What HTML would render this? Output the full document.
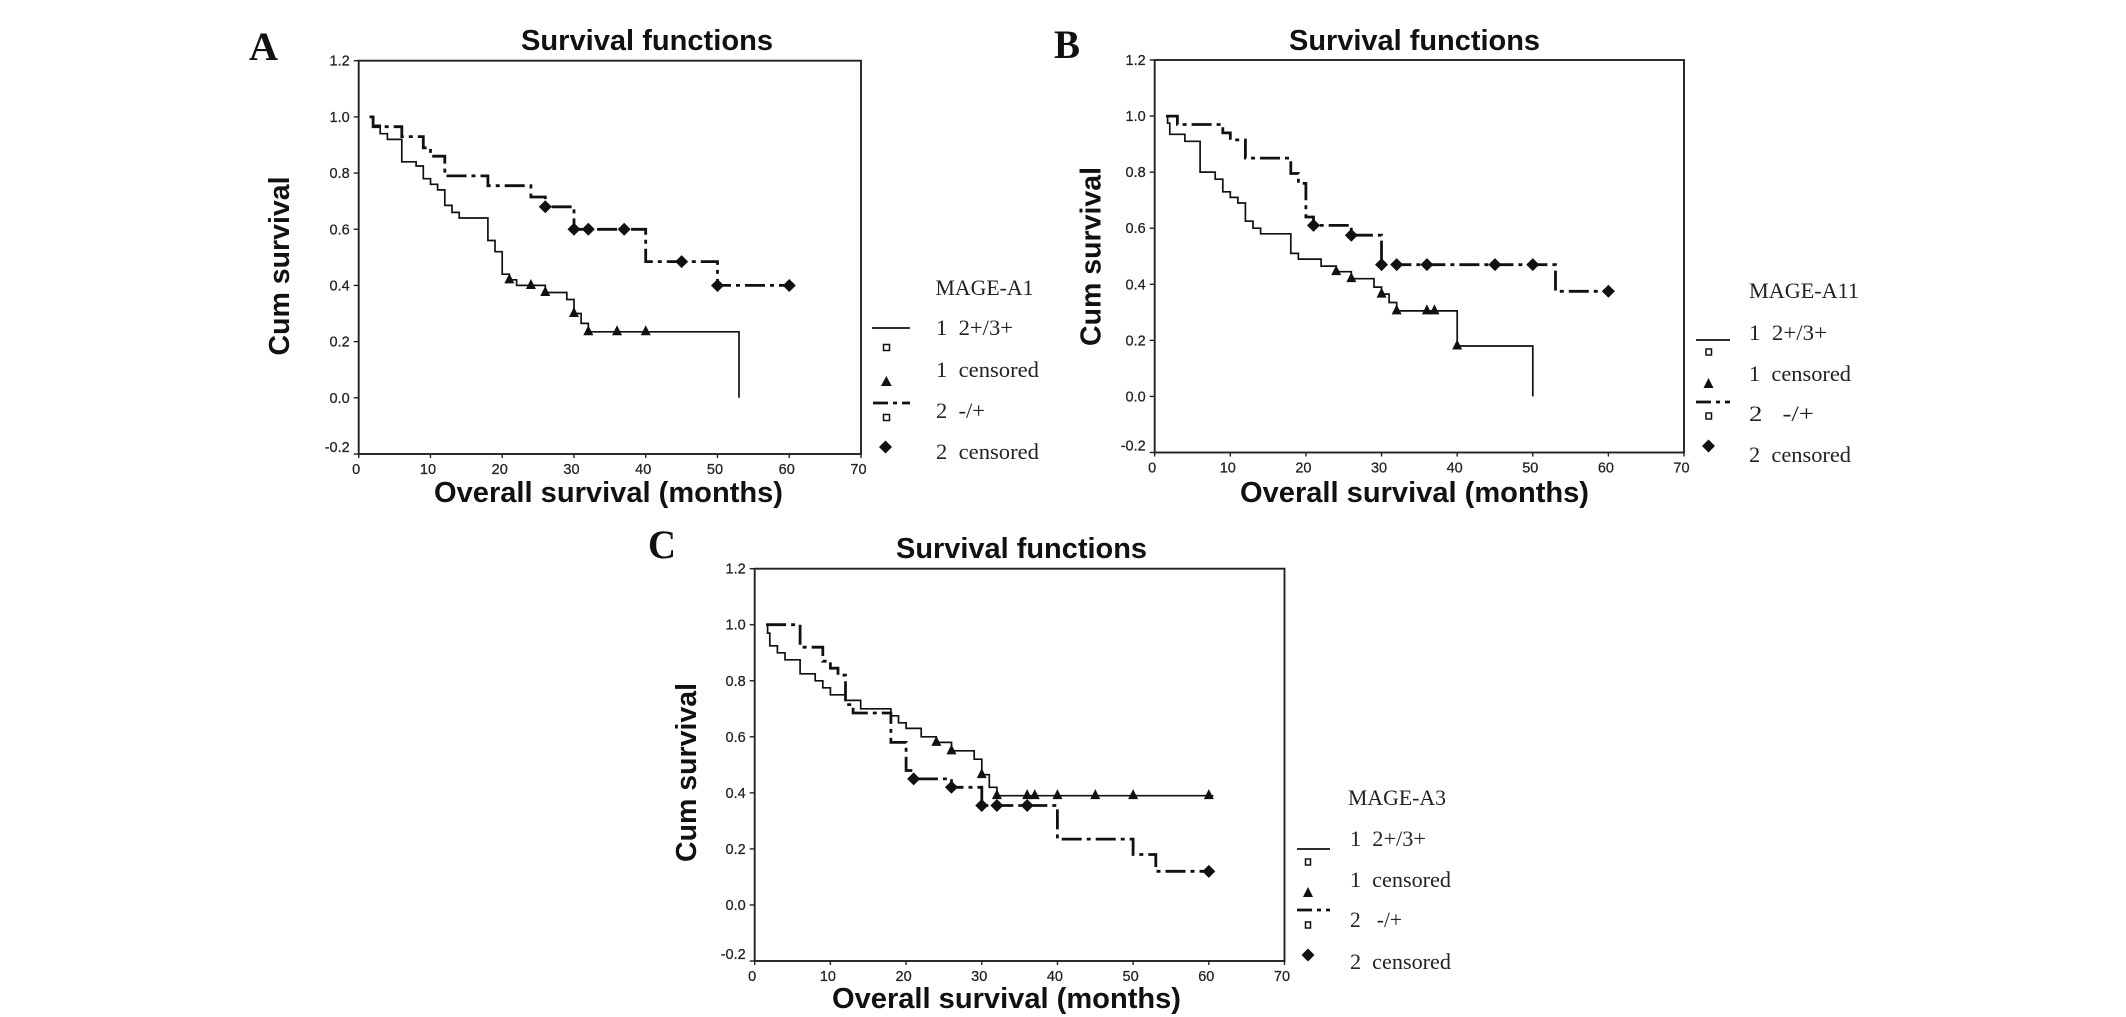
<!DOCTYPE html>
<html lang="en">
<head>
<meta charset="utf-8">
<title>Survival functions</title>
<style>
html,body{margin:0;padding:0;background:#fff;width:2126px;height:1017px;overflow:hidden}
svg{display:block}
.ttl{font:bold 29px "Liberation Sans",sans-serif;fill:#111}
.ax{font:bold 29px "Liberation Sans",sans-serif;fill:#111}
.let{font:bold 40px "Liberation Serif",serif;fill:#111}
.leg{font:22px "Liberation Serif",serif;fill:#222;white-space:pre}
.tk{font:14.5px "Liberation Sans",sans-serif;fill:#222;stroke:#222;stroke-width:.25}
</style>
</head>
<body>
<svg id="fig" xmlns="http://www.w3.org/2000/svg" width="2126" height="1017" viewBox="0 0 2126 1017">
  <rect width="2126" height="1017" fill="#fff"/>

  <g id="panel-a">
    <text class="let" x="249" y="60" textLength="29" lengthAdjust="spacingAndGlyphs">A</text>
    <text class="ttl" x="521" y="50" textLength="252" lengthAdjust="spacingAndGlyphs">Survival functions</text>
    <text class="ax" x="434" y="502" textLength="349" lengthAdjust="spacingAndGlyphs">Overall survival (months)</text>
    <text class="ax" transform="translate(289 355.5) rotate(-90)" textLength="179" lengthAdjust="spacingAndGlyphs">Cum survival</text>
    <g>
      <text class="leg" x="935.5" y="295" textLength="98" lengthAdjust="spacingAndGlyphs">MAGE-A1</text>
      <text class="leg" x="936" y="335" textLength="77" lengthAdjust="spacingAndGlyphs">1  2+/3+</text>
      <text class="leg" x="936" y="377" textLength="103" lengthAdjust="spacingAndGlyphs">1  censored</text>
      <text class="leg" x="936" y="418" textLength="49" lengthAdjust="spacingAndGlyphs">2  -/+</text>
      <text class="leg" x="936" y="459" textLength="103" lengthAdjust="spacingAndGlyphs">2  censored</text>
      <line x1="872" x2="910" y1="328" y2="328" stroke="#111" stroke-width="1.7"/>
      <rect x="883.5" y="344.5" width="6" height="6" fill="#fff" stroke="#111" stroke-width="1.5"/>
      <path d="M886.3 376L891.7 386H881Z" fill="#111"/>
      <line x1="873" x2="910" y1="403" y2="403" stroke="#111" stroke-width="2.8" stroke-dasharray="15 5 4 5"/>
      <rect x="883.5" y="414.5" width="6" height="6" fill="#fff" stroke="#111" stroke-width="1.5"/>
      <path d="M885.5 440.5L892 447L885.5 453.5L879 447Z" fill="#111"/>
    </g>
  </g>

  <g id="panel-b">
    <text class="let" x="1054" y="58" textLength="26" lengthAdjust="spacingAndGlyphs">B</text>
    <text class="ttl" x="1289" y="50" textLength="251" lengthAdjust="spacingAndGlyphs">Survival functions</text>
    <text class="ax" x="1240" y="502" textLength="349" lengthAdjust="spacingAndGlyphs">Overall survival (months)</text>
    <text class="ax" transform="translate(1100.6 346) rotate(-90)" textLength="179" lengthAdjust="spacingAndGlyphs">Cum survival</text>
    <g>
      <text class="leg" x="1749" y="298" textLength="110" lengthAdjust="spacingAndGlyphs">MAGE-A11</text>
      <text class="leg" x="1749" y="340" textLength="78" lengthAdjust="spacingAndGlyphs">1  2+/3+</text>
      <text class="leg" x="1749" y="381" textLength="102" lengthAdjust="spacingAndGlyphs">1  censored</text>
      <text class="leg" x="1749" y="421" textLength="65" lengthAdjust="spacingAndGlyphs">2   -/+</text>
      <text class="leg" x="1749" y="462" textLength="102" lengthAdjust="spacingAndGlyphs">2  censored</text>
      <line x1="1696" x2="1730" y1="340" y2="340" stroke="#111" stroke-width="1.7"/>
      <rect x="1706" y="349" width="5.5" height="6" fill="#fff" stroke="#111" stroke-width="1.5"/>
      <path d="M1708.5 378L1713.5 388H1703.5Z" fill="#111"/>
      <line x1="1696" x2="1730" y1="402" y2="402" stroke="#111" stroke-width="2.8" stroke-dasharray="15 5 4 5"/>
      <rect x="1706" y="413" width="5.5" height="6" fill="#fff" stroke="#111" stroke-width="1.5"/>
      <path d="M1708.5 439.5L1715 446L1708.5 452.5L1702 446Z" fill="#111"/>
    </g>
  </g>

  <g id="panel-c">
    <text class="let" x="648" y="558" textLength="28" lengthAdjust="spacingAndGlyphs">C</text>
    <text class="ttl" x="896" y="558" textLength="251" lengthAdjust="spacingAndGlyphs">Survival functions</text>
    <text class="ax" x="832" y="1008" textLength="349" lengthAdjust="spacingAndGlyphs">Overall survival (months)</text>
    <text class="ax" transform="translate(696 862) rotate(-90)" textLength="179" lengthAdjust="spacingAndGlyphs">Cum survival</text>
    <g>
      <text class="leg" x="1348" y="805" textLength="98" lengthAdjust="spacingAndGlyphs">MAGE-A3</text>
      <text class="leg" x="1350" y="846" textLength="76" lengthAdjust="spacingAndGlyphs">1  2+/3+</text>
      <text class="leg" x="1350" y="887" textLength="101" lengthAdjust="spacingAndGlyphs">1  censored</text>
      <text class="leg" x="1350" y="927" textLength="52" lengthAdjust="spacingAndGlyphs">2   -/+</text>
      <text class="leg" x="1350" y="969" textLength="101" lengthAdjust="spacingAndGlyphs">2  censored</text>
      <line x1="1297" x2="1330" y1="849" y2="849" stroke="#111" stroke-width="1.7"/>
      <rect x="1305.5" y="859" width="5" height="6" fill="#fff" stroke="#111" stroke-width="1.5"/>
      <path d="M1308 887L1313 897H1303Z" fill="#111"/>
      <line x1="1297" x2="1330" y1="910" y2="910" stroke="#111" stroke-width="2.8" stroke-dasharray="15 5 4 5"/>
      <rect x="1305.5" y="922" width="5" height="6" fill="#fff" stroke="#111" stroke-width="1.5"/>
      <path d="M1308 948.5L1314.5 955L1308 961.5L1301.5 955Z" fill="#111"/>
    </g>
  </g>
</svg>

<script>
// Axis tick labels
const xTickLabels = [0, 10, 20, 30, 40, 50, 60, 70];
const yTickLabels = [1.2, 1.0, 0.8, 0.6, 0.4, 0.2, 0.0, -0.2];

// Panel A: MAGE-A1
const aSolidTimes = [1.5, 2, 3, 4, 6, 8, 9, 10, 11, 12, 13, 14, 18, 19, 20, 21, 22, 26, 29, 30, 31, 32, 53];
const aSolidSurvival = [1.0, 0.97, 0.94, 0.92, 0.84, 0.825, 0.78, 0.76, 0.74, 0.685, 0.66, 0.64, 0.56, 0.52, 0.44, 0.42, 0.40, 0.375, 0.35, 0.30, 0.265, 0.235, 0];
const aSolidEnd = [53];
const aSolidCensored = [21, 24, 26, 30, 32, 36, 40];
const aDashTimes = [1.5, 2, 6, 9, 10, 12, 18, 24, 26, 30, 40, 50];
const aDashSurvival = [1.0, 0.965, 0.93, 0.89, 0.86, 0.79, 0.755, 0.715, 0.68, 0.60, 0.485, 0.40];
const aDashEnd = [60];
const aDashCensored = [26, 30, 32, 37, 45, 50, 60];

// Panel B: MAGE-A11
const bSolidTimes = [1.5, 1.7, 2, 4, 6, 8, 9, 10, 11, 12, 13, 14, 18, 19, 22, 24, 26, 29, 30, 31, 32, 40, 50];
const bSolidSurvival = [1.0, 0.975, 0.935, 0.91, 0.80, 0.775, 0.73, 0.71, 0.69, 0.625, 0.60, 0.58, 0.51, 0.49, 0.465, 0.445, 0.42, 0.39, 0.365, 0.335, 0.305, 0.18, 0];
const bSolidEnd = [50];
const bSolidCensored = [24, 26, 30, 32, 36, 37, 40];
const bDashTimes = [1.5, 3, 9, 10, 12, 18, 19, 20, 21, 26, 30, 53];
const bDashSurvival = [1.0, 0.97, 0.94, 0.915, 0.85, 0.795, 0.76, 0.64, 0.61, 0.575, 0.47, 0.375];
const bDashEnd = [60];
const bDashCensored = [21, 26, 30, 32, 36, 45, 50, 60];

// Panel C: MAGE-A3
const cSolidTimes = [1.5, 1.7, 2, 3, 4, 6, 8, 9, 10, 12, 14, 18, 19, 20, 22, 24, 26, 29, 30, 31, 32];
const cSolidSurvival = [1.0, 0.97, 0.925, 0.90, 0.875, 0.825, 0.80, 0.775, 0.75, 0.73, 0.70, 0.675, 0.65, 0.63, 0.60, 0.58, 0.55, 0.52, 0.465, 0.42, 0.39];
const cSolidEnd = [60.6];
const cSolidCensored = [24, 26, 30, 32, 36, 37, 40, 45, 50, 60];
const cDashTimes = [1.5, 6, 9, 10, 11, 12, 13, 18, 20, 21, 26, 30, 40, 50, 53];
const cDashSurvival = [1.0, 0.92, 0.87, 0.845, 0.82, 0.715, 0.685, 0.58, 0.48, 0.45, 0.42, 0.355, 0.235, 0.18, 0.12];
const cDashEnd = [60];
const cDashCensored = [21, 26, 30, 32, 36, 60];

const SVGNS = 'http://www.w3.org/2000/svg';

function xAxis(frame, v) {
  return frame.left + (v / 70) * (frame.right - frame.left);
}
function yAxis(frame, v) {
  return frame.top + ((1.2 - v) / 1.4) * (frame.bottom - frame.top);
}
function survivalAt(times, survival, t) {
  let s = survival[0];
  for (let i = 0; i < times.length; i++) {
    if (times[i] <= t) s = survival[i];
  }
  return s;
}
function stepPath(frame, times, survival, end) {
  let d = 'M' + xAxis(frame, times[0]).toFixed(1) + ' ' + yAxis(frame, survival[0]).toFixed(1);
  for (let i = 1; i < times.length; i++) {
    d += 'H' + xAxis(frame, times[i]).toFixed(1) + 'V' + yAxis(frame, survival[i]).toFixed(1);
  }
  d += 'H' + xAxis(frame, end).toFixed(1);
  return d;
}
function shape(parent, tag, name) {
  const el = document.createElementNS(SVGNS, tag);
  
  
  parent.appendChild(el);
  return el;
}

function drawPanel(panelId, frame, solid, dash) {
  const g = document.getElementById(panelId);

  const box = shape(g, 'rect', 'plot-frame');
  box.setAttribute('x', frame.left);
  box.setAttribute('y', frame.top);
  box.setAttribute('width', frame.right - frame.left);
  box.setAttribute('height', frame.bottom - frame.top);
  box.setAttribute('fill', 'none');
  box.setAttribute('stroke', '#222');
  box.setAttribute('stroke-width', '1.9');

  xTickLabels.forEach(function (v) {
    const px = xAxis(frame, v);
    const tick = shape(g, 'line', 'x-tick-' + v);
    tick.setAttribute('x1', px);
    tick.setAttribute('x2', px);
    tick.setAttribute('y1', frame.bottom);
    tick.setAttribute('y2', frame.bottom + 4);
    tick.setAttribute('stroke', '#222');
    tick.setAttribute('stroke-width', '1.4');
    const label = shape(g, 'text', 'x-tick-label-' + v);
    label.setAttribute('class', 'tk');
    label.setAttribute('x', px - 2.5);
    label.setAttribute('y', frame.bottom + 20);
    label.setAttribute('text-anchor', 'middle');
    label.textContent = String(v);
  });

  yTickLabels.forEach(function (v) {
    const py = yAxis(frame, v);
    const tick = shape(g, 'line', 'y-tick-' + v);
    tick.setAttribute('x1', frame.left - 5);
    tick.setAttribute('x2', frame.left);
    tick.setAttribute('y1', py);
    tick.setAttribute('y2', py);
    tick.setAttribute('stroke', '#222');
    tick.setAttribute('stroke-width', '1.4');
    const label = shape(g, 'text', 'y-tick-label-' + v);
    label.setAttribute('class', 'tk');
    label.setAttribute('x', frame.left - 9);
    label.setAttribute('y', py + 5 - (v < 0 ? 7 : 0));
    label.setAttribute('text-anchor', 'end');
    label.textContent = v.toFixed(1);
  });

  const solidLine = shape(g, 'path', 'survival-line-group-1');
  solidLine.setAttribute('d', stepPath(frame, solid.times, solid.survival, solid.end));
  solidLine.setAttribute('fill', 'none');
  solidLine.setAttribute('stroke', '#111');
  solidLine.setAttribute('stroke-width', '1.7');

  const dashLine = shape(g, 'path', 'survival-line-group-2');
  dashLine.setAttribute('d', stepPath(frame, dash.times, dash.survival, dash.end));
  dashLine.setAttribute('fill', 'none');
  dashLine.setAttribute('stroke', '#111');
  dashLine.setAttribute('stroke-width', '2.8');
  dashLine.setAttribute('stroke-dasharray', '20 5 4 5');

  solid.censored.forEach(function (t) {
    const px = xAxis(frame, t);
    const py = yAxis(frame, survivalAt(solid.times, solid.survival, t));
    const tri = shape(g, 'path', 'censored-triangle-' + t);
    tri.setAttribute('d', 'M' + px + ' ' + (py - 6.5) + 'L' + (px + 5) + ' ' + (py + 3.5) + 'H' + (px - 5) + 'Z');
    tri.setAttribute('fill', '#111');
  });

  dash.censored.forEach(function (t) {
    const px = xAxis(frame, t);
    const py = yAxis(frame, survivalAt(dash.times, dash.survival, t));
    const dia = shape(g, 'path', 'censored-diamond-' + t);
    dia.setAttribute('d', 'M' + px + ' ' + (py - 6.5) + 'L' + (px + 6.5) + ' ' + py + 'L' + px + ' ' + (py + 6.5) + 'L' + (px - 6.5) + ' ' + py + 'Z');
    dia.setAttribute('fill', '#111');
  });
}

drawPanel('panel-a', { left: 358.7, right: 861, top: 60.7, bottom: 454 },
  { times: aSolidTimes, survival: aSolidSurvival, end: aSolidEnd[0], censored: aSolidCensored },
  { times: aDashTimes, survival: aDashSurvival, end: aDashEnd[0], censored: aDashCensored });
drawPanel('panel-b', { left: 1154.7, right: 1684, top: 60, bottom: 452.5 },
  { times: bSolidTimes, survival: bSolidSurvival, end: bSolidEnd[0], censored: bSolidCensored },
  { times: bDashTimes, survival: bDashSurvival, end: bDashEnd[0], censored: bDashCensored });
drawPanel('panel-c', { left: 754.7, right: 1284.5, top: 568.7, bottom: 961 },
  { times: cSolidTimes, survival: cSolidSurvival, end: cSolidEnd[0], censored: cSolidCensored },
  { times: cDashTimes, survival: cDashSurvival, end: cDashEnd[0], censored: cDashCensored });
</script>
</body>
</html>
